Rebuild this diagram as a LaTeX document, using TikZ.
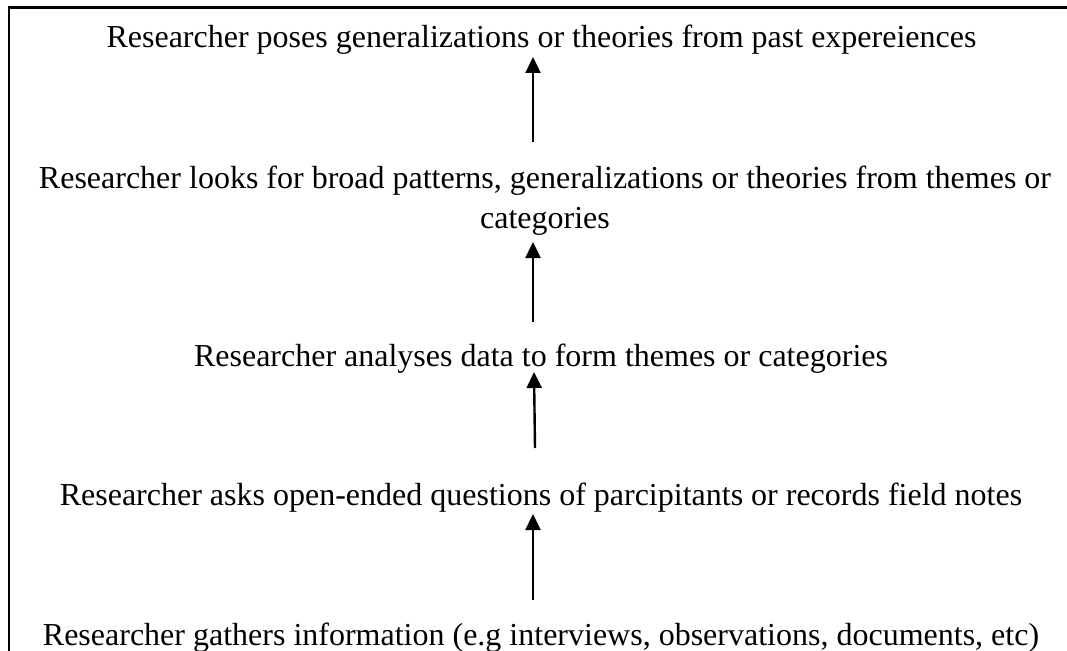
\documentclass[tikz,border=0pt]{standalone}
\usepackage{fontspec}
\setmainfont{Liberation Serif}
\usetikzlibrary{arrows.meta}
\begin{document}
\begin{tikzpicture}[x=1pt,y=-1pt,
  stage/.style={anchor=base, inner sep=0pt, align=center,
    font=\fontsize{32}{40}\selectfont},
  flow/.style={-{Triangle[length=16pt,width=15pt]}, line width=2.4pt},
  frame/.style={line width=2.6pt}]
\useasboundingbox (0,0) rectangle (1067,650);
\clip (0,0) rectangle (1067,650);

% open frame: top and left edges
\coordinate (fb) at (9,680);
\coordinate (ftl) at (9,7.5);
\coordinate (fr) at (1090,7.5);
\draw[frame] (fb) -- (ftl) -- (fr);

% stages, from top to bottom (a two-line node sits on its last baseline)
\node[stage] (s5) at (541.5,48) {Researcher poses generalizations or theories from past expereiences};
\node[stage] (s4) at (545,228) {Researcher looks for broad patterns, generalizations or theories from themes or\\categories};
\node[stage] (s3) at (541,366) {Researcher analyses data to form themes or categories};
\node[stage] (s2) at (541,505) {Researcher asks open-ended questions of parcipitants or records field notes};
\node[stage] (s1) at (541,645) {Researcher gathers information (e.g interviews, observations, documents, etc)};

% arrow end points
\coordinate (a4t) at (533,142);  \coordinate (a4h) at (533,57);
\coordinate (a3t) at (533,322);  \coordinate (a3h) at (533,242);
\coordinate (a2t) at (535,448);  \coordinate (a2h) at (534,372);
\coordinate (a1t) at (533,600);  \coordinate (a1h) at (533,514);

\draw[flow] (a4t) -- (a4h);
\draw[flow] (a3t) -- (a3h);
\draw[flow] (a2t) -- (a2h);
\draw[flow] (a1t) -- (a1h);
\end{tikzpicture}
\end{document}
